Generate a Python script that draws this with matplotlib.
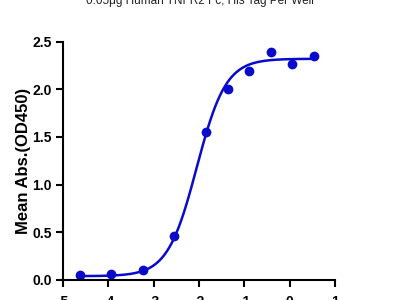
import numpy as np
from matplotlib import pyplot as plt

plt.rcParams['font.family'] = ['Liberation Sans', 'DejaVu Sans']

# data (log concentration vs OD450)
log_conc = [-4.62, -3.94, -3.24, -2.55, -1.85, -1.36, -0.89, -0.42, 0.06, 0.54]
od450 = [0.05, 0.06, 0.10, 0.46, 1.55, 2.00, 2.19, 2.39, 2.26, 2.35]

# 4PL fit parameters (estimated from the drawn curve)
bottom, top, log_ec50, hill = 0.04, 2.32, -2.05, 1.35

x_ticks = [-5, -4, -3, -2, -1, 0, 1]
y_ticks = [0.0, 0.5, 1.0, 1.5, 2.0, 2.5]

blue = '#0A0ACC'

fig = plt.figure(figsize=(4, 3), dpi=100)
ax = fig.add_axes([0.1575, 0.0667, 0.68, 0.7946])

xs = np.linspace(min(log_conc), max(log_conc), 300)
fit = bottom + (top - bottom) / (1 + 10 ** ((log_ec50 - xs) * hill))
ax.plot(xs, fit, color=blue, lw=1.8)
ax.plot(log_conc, od450, 'o', color=blue, ms=6)

ax.set_xlim(-5, 1)
ax.set_ylim(0, 2.5)
ax.set_xticks(x_ticks)
ax.set_xticklabels([str(t) for t in x_ticks])
ax.set_yticks(y_ticks)
ax.set_yticklabels([f"{t:.1f}" for t in y_ticks])

for s in ('top', 'right'):
    ax.spines[s].set_visible(False)
for s in ('left', 'bottom'):
    ax.spines[s].set_linewidth(1.5)
ax.tick_params(width=1.5, length=5, labelsize=10, pad=3)
ax.tick_params(axis='x', pad=6)
for lab in ax.get_xticklabels() + ax.get_yticklabels():
    lab.set_fontweight('bold')

ax.set_ylabel("Mean Abs.(OD450)", fontsize=12, fontweight='bold', labelpad=1)
fig.text(0.5, 0.998, "0.05μg Human TNFR2 Fc, His Tag Per Well", ha='center', va='center',
         fontsize=8.5, color='#222222')

plt.savefig('out.png', dpi=100)
